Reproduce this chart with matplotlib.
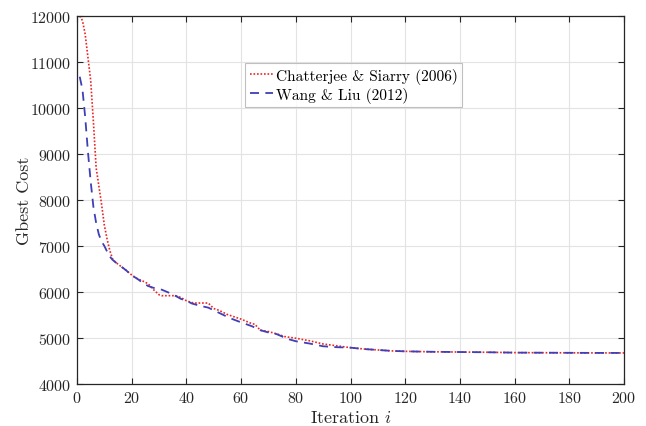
import matplotlib
matplotlib.use("Agg")
import matplotlib.pyplot as plt

# Data
cs_iter = [1, 2, 3, 4, 5, 6, 7, 8, 9, 10, 11, 12, 13, 14, 16, 18, 20, 22, 24, 26,
           28, 30, 31, 36, 38, 40, 42, 43, 48, 50, 52, 55, 60, 64, 65, 67, 70, 73,
           76, 80, 85, 90, 95, 100, 105, 110, 115, 120, 130, 140, 150, 160, 170,
           180, 190, 200]
cs_cost = [12000, 11900, 11600, 11100, 10600, 9700, 8700, 8300, 7900, 7450, 7150,
           6900, 6720, 6650, 6560, 6470, 6370, 6290, 6240, 6180, 6050, 5940, 5920,
           5920, 5880, 5810, 5770, 5760, 5760, 5640, 5600, 5510, 5410, 5310, 5300,
           5170, 5140, 5090, 5030, 4995, 4940, 4870, 4830, 4790, 4760, 4740, 4720,
           4710, 4700, 4695, 4690, 4682, 4680, 4678, 4676, 4675]

wl_iter = [1, 2, 3, 4, 5, 6, 7, 8, 9, 10, 11, 12, 13, 14, 16, 18, 20, 22, 24, 26,
           28, 31, 33, 35, 38, 40, 42, 45, 48, 52, 56, 60, 64, 67, 70, 73, 77, 80,
           85, 90, 95, 100, 105, 110, 115, 120, 130, 140, 150, 160, 170, 180, 190,
           200]
wl_cost = [10680, 10400, 9800, 9050, 8400, 7850, 7500, 7250, 7100, 7000, 6880,
           6770, 6700, 6650, 6560, 6470, 6360, 6290, 6200, 6130, 6090, 6050, 6000,
           5950, 5850, 5810, 5750, 5700, 5660, 5545, 5430, 5340, 5255, 5170, 5120,
           5085, 4980, 4930, 4880, 4820, 4800, 4790, 4760, 4740, 4720, 4710, 4700,
           4695, 4690, 4682, 4680, 4678, 4676, 4675]

x_ticks = list(range(0, 201, 20))
y_ticks = list(range(4000, 12001, 1000))

plt.rcParams['font.family'] = ['cmr10']
plt.rcParams['mathtext.fontset'] = 'cm'
plt.rcParams['axes.formatter.use_mathtext'] = True

fig = plt.figure(figsize=(6.46, 4.27), dpi=100)
ax = fig.add_axes([77/646, 1 - 385/427, 547/646, 368/427])

ax.plot(cs_iter, cs_cost, color='#ee2222', linestyle=(0, (1, 1.1)), linewidth=1.2,
        label='Chatterjee & Siarry (2006)')
ax.plot(wl_iter, wl_cost, color='#3f3fb8', linestyle=(0, (5, 3.5)), linewidth=1.3,
        label='Wang & Liu (2012)')

ax.set_xlim(0, 200)
ax.set_ylim(4000, 12000)
ax.set_xticks(x_ticks)
ax.set_yticks(y_ticks)
ax.grid(True, color='#e3e3e3', linewidth=0.8)
ax.set_axisbelow(True)
ax.tick_params(direction='in', length=4.5, width=0.8, colors='#262626',
               labelsize=11.5, top=True, right=True, pad=4)
for s in ax.spines.values():
    s.set_color('#262626')
    s.set_linewidth(0.9)

ax.set_xlabel('Iteration $i$', fontsize=13, color='#262626', labelpad=3)
ax.set_ylabel('Gbest Cost', fontsize=13, color='#262626')
ax.yaxis.set_label_coords(-0.082, 0.5)

leg = ax.legend(loc='upper left', bbox_to_anchor=(245/646, 1 - 64/427),
                bbox_transform=fig.transFigure, fontsize=11.1, frameon=True,
                fancybox=False, edgecolor='#b0b0b0', handlelength=1.5,
                handletextpad=0.2, borderpad=0.3, labelspacing=0.2,
                borderaxespad=0)
leg.get_frame().set_linewidth(0.8)

fig.savefig('out.png', dpi=100)
